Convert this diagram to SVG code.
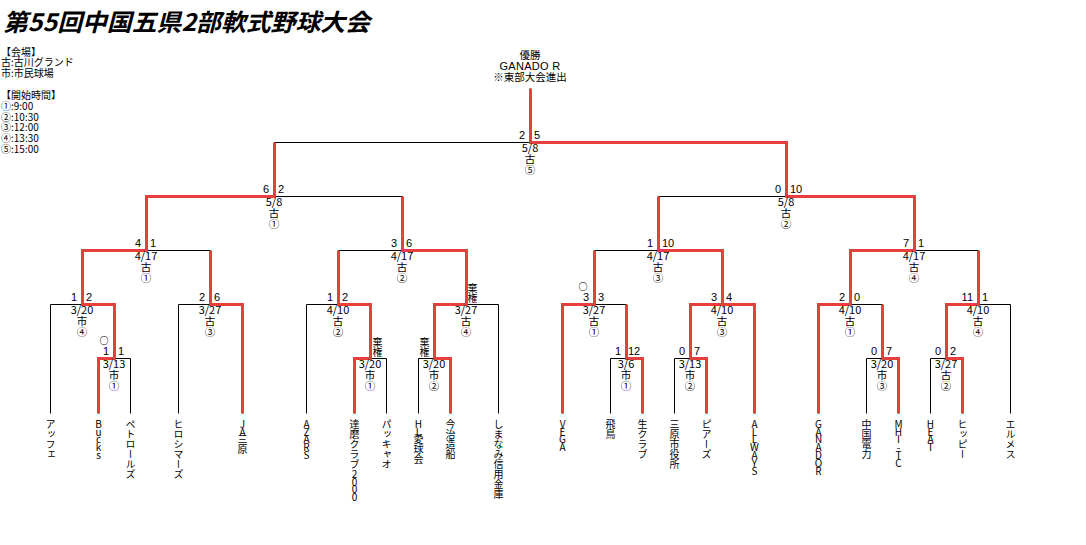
<svg xmlns="http://www.w3.org/2000/svg" width="1086" height="545" viewBox="0 0 1086 545">
<style>
.bg{fill:#fff}
.b{stroke:#000;stroke-width:1;fill:none}
.r{stroke:#e83e3e;stroke-width:3;fill:none;stroke-linejoin:miter;stroke-linecap:butt}
text{font-family:"Liberation Sans","Noto Sans CJK JP",sans-serif;fill:#000}
.title{font-family:"Noto Sans CJK JP",sans-serif;font-size:24px;font-weight:bold;font-style:italic}
.lg{font-family:"Noto Sans CJK JP",sans-serif;font-size:10px}
.s{font-size:11px}
.l{text-anchor:end}
.m{text-anchor:middle}
.k{font-family:"Noto Sans CJK JP",sans-serif;font-size:10.5px}
.t{font-family:"Noto Sans CJK JP",sans-serif;font-size:10px;writing-mode:vertical-rl;text-orientation:upright}
.v{font-family:"Noto Sans CJK JP",sans-serif;font-size:10px;writing-mode:vertical-rl;text-orientation:upright}
.n{letter-spacing:-2.2px}
.o{font-family:"Noto Sans CJK JP",sans-serif;font-size:9px;font-weight:bold;text-anchor:middle}
</style>
<rect class="bg" x="0" y="0" width="1086" height="545"/>
<g id="title"><text class="title" x="3" y="31" textLength="367" lengthAdjust="spacingAndGlyphs">第55回中国五県2部軟式野球大会</text></g>
<g id="legend">
<text class="lg"><tspan x="1" y="56">【会場】</tspan><tspan x="1" y="66">古:古川グランド</tspan><tspan x="1" y="77">市:市民球場</tspan><tspan x="1" y="99">【開始時間】</tspan><tspan x="1" y="110">①:9:00</tspan><tspan x="1" y="121">②:10:30</tspan><tspan x="1" y="131">③:12:00</tspan><tspan x="1" y="142">④:13:30</tspan><tspan x="1" y="153">⑤:15:00</tspan></text>
</g>
<g id="connectors" transform="translate(0.5,0.5)">
<path class="b" d="M274,196V142H786V196M530,142V88
M146,250V196H402V250M658,250V196H914V250
M82,304V250H210V304M338,304V250H466V304M594,304V250H722V304M850,304V250H978V304
M50,413V304H114V358M178,413V304H242V413M306,413V304H370V358M434,358V304H498V413
M562,413V304H626V358M690,358V304H754V413M818,413V304H882V358M946,358V304H1010V413
M98,413V358H130V413M354,413V358H386V413M418,413V358H450V413M610,413V358H642V413
M674,413V358H706V413M866,413V358H898V413M930,413V358H962V413"/>
<polyline class="r" points="98,413 98,358 114,358 114,304 82,304 82,250 146,250 146,196 274,196 274,142"/>
<polyline class="r" points="242,413 242,304 210,304 210,250"/>
<polyline class="r" points="354,413 354,358 370,358 370,304 338,304 338,250"/>
<polyline class="r" points="450,413 450,358 434,358 434,304 466,304 466,250 402,250 402,196"/>
<polyline class="r" points="562,413 562,304 594,304 594,250"/>
<polyline class="r" points="642,413 642,358 626,358 626,304"/>
<polyline class="r" points="706,413 706,358 690,358 690,304 722,304"/>
<polyline class="r" points="754,413 754,304 722,304 722,250 658,250 658,196"/>
<polyline class="r" points="818,413 818,304 850,304 850,250 914,250 914,196 786,196 786,142 530,142 530,88"/>
<polyline class="r" points="898,413 898,358 882,358 882,304"/>
<polyline class="r" points="962,413 962,358 946,358 946,304 978,304 978,250"/>
</g>
<g id="champion">
<text class="k m"><tspan x="530" y="59">優勝</tspan><tspan x="530" y="70" style="font-family:'Liberation Sans',sans-serif;font-size:11px;letter-spacing:0.3px">GANADO R</tspan><tspan x="530" y="81">※東部大会進出</tspan></text>
</g>
<g id="final"><text class="s l" x="525" y="139">2</text><text class="s" x="534" y="139">5</text><text class="k m"><tspan class="s" x="530" y="152">5/8</tspan><tspan x="530" y="163">古</tspan><tspan x="530" y="174">⑤</tspan></text></g>
<g id="sf1"><text class="s l" x="269" y="193">6</text><text class="s" x="278" y="193">2</text><text class="k m"><tspan class="s" x="274" y="206">5/8</tspan><tspan x="274" y="217">古</tspan><tspan x="274" y="228">①</tspan></text></g>
<g id="sf2"><text class="s l" x="781" y="193">0</text><text class="s" x="790" y="193">10</text><text class="k m"><tspan class="s" x="786" y="206">5/8</tspan><tspan x="786" y="217">古</tspan><tspan x="786" y="228">②</tspan></text></g>
<g id="qf1"><text class="s l" x="141" y="247">4</text><text class="s" x="150" y="247">1</text><text class="k m"><tspan class="s" x="146" y="260">4/17</tspan><tspan x="146" y="271">古</tspan><tspan x="146" y="282">①</tspan></text></g>
<g id="qf2"><text class="s l" x="397" y="247">3</text><text class="s" x="406" y="247">6</text><text class="k m"><tspan class="s" x="402" y="260">4/17</tspan><tspan x="402" y="271">古</tspan><tspan x="402" y="282">②</tspan></text></g>
<g id="qf3"><text class="s l" x="653" y="247">1</text><text class="s" x="662" y="247">10</text><text class="k m"><tspan class="s" x="658" y="260">4/17</tspan><tspan x="658" y="271">古</tspan><tspan x="658" y="282">③</tspan></text></g>
<g id="qf4"><text class="s l" x="909" y="247">7</text><text class="s" x="918" y="247">1</text><text class="k m"><tspan class="s" x="914" y="260">4/17</tspan><tspan x="914" y="271">古</tspan><tspan x="914" y="282">④</tspan></text></g>
<g id="r2a"><text class="s l" x="77" y="301">1</text><text class="s" x="86" y="301">2</text><text class="k m"><tspan class="s" x="82" y="314">3/20</tspan><tspan x="82" y="325">市</tspan><tspan x="82" y="336">④</tspan></text></g>
<g id="r2b"><text class="s l" x="205" y="301">2</text><text class="s" x="214" y="301">6</text><text class="k m"><tspan class="s" x="210" y="314">3/27</tspan><tspan x="210" y="325">古</tspan><tspan x="210" y="336">③</tspan></text></g>
<g id="r2c"><text class="s l" x="333" y="301">1</text><text class="s" x="342" y="301">2</text><text class="k m"><tspan class="s" x="338" y="314">4/10</tspan><tspan x="338" y="325">古</tspan><tspan x="338" y="336">②</tspan></text></g>
<g id="r2d"><text class="v" x="472.5" y="283">棄権</text><text class="k m"><tspan class="s" x="466" y="314">3/27</tspan><tspan x="466" y="325">古</tspan><tspan x="466" y="336">④</tspan></text></g>
<g id="r2e"><text class="o" x="583" y="290">○</text><text class="s l" x="589" y="301">3</text><text class="s" x="598" y="301">3</text><text class="k m"><tspan class="s" x="594" y="314">3/27</tspan><tspan x="594" y="325">古</tspan><tspan x="594" y="336">①</tspan></text></g>
<g id="r2f"><text class="s l" x="717" y="301">3</text><text class="s" x="726" y="301">4</text><text class="k m"><tspan class="s" x="722" y="314">4/10</tspan><tspan x="722" y="325">古</tspan><tspan x="722" y="336">③</tspan></text></g>
<g id="r2g"><text class="s l" x="845" y="301">2</text><text class="s" x="854" y="301">0</text><text class="k m"><tspan class="s" x="850" y="314">4/10</tspan><tspan x="850" y="325">古</tspan><tspan x="850" y="336">①</tspan></text></g>
<g id="r2h"><text class="s l" x="973" y="301">11</text><text class="s" x="982" y="301">1</text><text class="k m"><tspan class="s" x="978" y="314">4/10</tspan><tspan x="978" y="325">古</tspan><tspan x="978" y="336">④</tspan></text></g>
<g id="r1a"><text class="o" x="104" y="344">○</text><text class="s l" x="109" y="355">1</text><text class="s" x="118" y="355">1</text><text class="k m"><tspan class="s" x="114" y="368">3/13</tspan><tspan x="114" y="379">市</tspan><tspan x="114" y="390">①</tspan></text></g>
<g id="r1b"><text class="v" x="377.5" y="337">棄権</text><text class="k m"><tspan class="s" x="370" y="368">3/20</tspan><tspan x="370" y="379">市</tspan><tspan x="370" y="390">①</tspan></text></g>
<g id="r1c"><text class="v" x="424.5" y="337">棄権</text><text class="k m"><tspan class="s" x="434" y="368">3/20</tspan><tspan x="434" y="379">市</tspan><tspan x="434" y="390">②</tspan></text></g>
<g id="r1d"><text class="s l" x="621" y="355">1</text><text class="s" x="628" y="355">12</text><text class="k m"><tspan class="s" x="626" y="368">3/6</tspan><tspan x="626" y="379">市</tspan><tspan x="626" y="390">①</tspan></text></g>
<g id="r1e"><text class="s l" x="685" y="355">0</text><text class="s" x="694" y="355">7</text><text class="k m"><tspan class="s" x="690" y="368">3/13</tspan><tspan x="690" y="379">市</tspan><tspan x="690" y="390">②</tspan></text></g>
<g id="r1f"><text class="s l" x="877" y="355">0</text><text class="s" x="886" y="355">7</text><text class="k m"><tspan class="s" x="882" y="368">3/20</tspan><tspan x="882" y="379">市</tspan><tspan x="882" y="390">③</tspan></text></g>
<g id="r1g"><text class="s l" x="941" y="355">0</text><text class="s" x="950" y="355">2</text><text class="k m"><tspan class="s" x="946" y="368">3/27</tspan><tspan x="946" y="379">古</tspan><tspan x="946" y="390">②</tspan></text></g>
<g id="teams">
<g id="t1"><text class="t" x="50.5" y="419">アッフェ</text></g>
<g id="t2"><text class="t n" x="98.5" y="419">Bucks</text></g>
<g id="t3"><text class="t" x="130.5" y="419">ペトロールズ</text></g>
<g id="t4"><text class="t" x="178.5" y="419">ヒロシマーズ</text></g>
<g id="t5"><text class="t" x="242.5" y="419"><tspan class="n">JA</tspan>三原</text></g>
<g id="t6"><text class="t n" x="306.5" y="419">AZARS</text></g>
<g id="t7"><text class="t" x="354.5" y="419">達磨クラブ<tspan class="n">2000</tspan></text></g>
<g id="t8"><text class="t" x="386.5" y="419">パッキャオ</text></g>
<g id="t9"><text class="t" x="418.5" y="419"><tspan class="n">HL</tspan>愛球会</text></g>
<g id="t10"><text class="t" x="450.5" y="419">今治造船</text></g>
<g id="t11"><text class="t" x="498.5" y="419">しまなみ信用金庫</text></g>
<g id="t12"><text class="t n" x="562.5" y="419">VEGA</text></g>
<g id="t13"><text class="t" x="610.5" y="419">飛鳥</text></g>
<g id="t14"><text class="t" x="642.5" y="419">生クラブ</text></g>
<g id="t15"><text class="t" x="674.5" y="419">三原市役所</text></g>
<g id="t16"><text class="t" x="706.5" y="419">ピアーズ</text></g>
<g id="t17"><text class="t n" x="754.5" y="419">ALLWAYS</text></g>
<g id="t18"><text class="t n" x="818.5" y="419">GANADOR</text></g>
<g id="t19"><text class="t" x="866.5" y="419">中国電力</text></g>
<g id="t20"><text class="t n" x="898.5" y="419">MHI-TC</text></g>
<g id="t21"><text class="t n" x="930.5" y="419">HEAT</text></g>
<g id="t22"><text class="t" x="962.5" y="419">ヒッピー</text></g>
<g id="t23"><text class="t" x="1010.5" y="419">エルメス</text></g>
</g>
</svg>
